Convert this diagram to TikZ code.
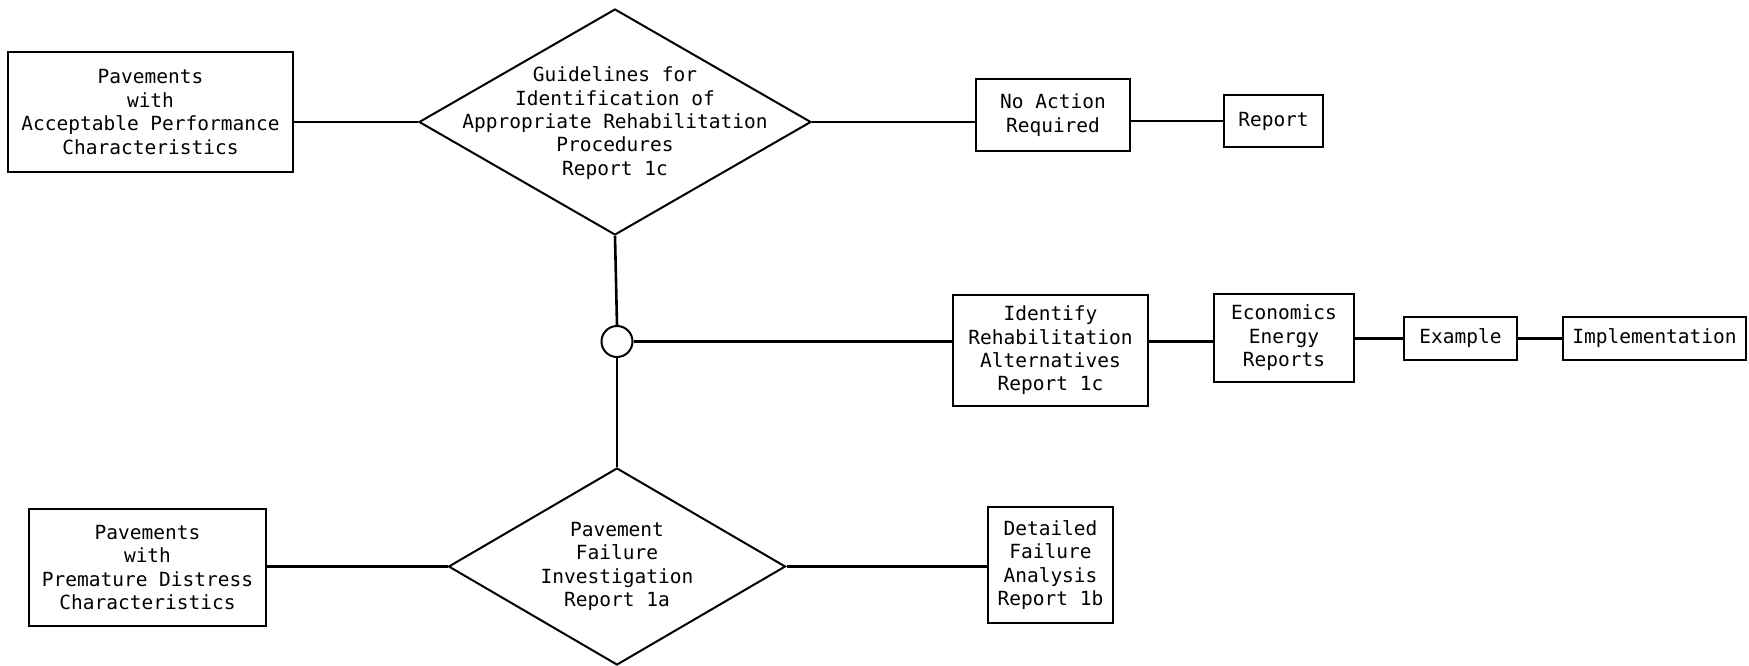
\documentclass[tikz,border=0pt]{standalone}
\usepackage{fontspec}
\setmonofont{DejaVu Sans Mono}
\usetikzlibrary{shapes.geometric}
\newcommand\labfont{\ttfamily\fontsize{19.5}{23.4}\selectfont}
\begin{document}
\begin{tikzpicture}[x=1pt,y=-1pt,
  box/.style={draw, line width=2pt, rectangle, inner sep=0pt, align=center, font=\labfont},
  dia/.style={draw, line width=2pt, diamond, inner sep=0pt},
  txt/.style={align=center, font=\labfont, inner sep=0pt},
  con/.style={line width=2.6pt}]
\useasboundingbox (0,0) rectangle (1749,666);

% top row
\node[box, minimum width=285pt, minimum height=120pt] (a1) at (150.5,112)
  {Pavements\\with\\Acceptable Performance\\Characteristics};
\node[dia, minimum width=392pt, minimum height=226pt] (d1) at (615,122) {};
\node[txt] (t1) at (615,123)
  {Guidelines for\\Identification of\\Appropriate Rehabilitation\\Procedures\\Report 1c};
\node[box, minimum width=154pt, minimum height=72pt] (n1) at (1053,115) {No Action\\Required};
\node[box, minimum width=99pt, minimum height=52pt] (r1) at (1273.5,121) {Report};

% middle row
\node[draw, circle, line width=2pt, minimum size=31pt, inner sep=0pt] (c1) at (617,341.5) {};
\node[box, minimum width=195pt, minimum height=111pt] (i1) at (1050.5,350.5)
  {Identify\\Rehabilitation\\Alternatives\\Report 1c};
\node[box, minimum width=140pt, minimum height=88pt] (e1) at (1284,338) {Economics\\Energy\\Reports};
\node[box, minimum width=113pt, minimum height=43pt] (x1) at (1460.5,338.5) {Example};
\node[box, minimum width=183pt, minimum height=43pt] (m1) at (1654.5,338.5) {Implementation};

% bottom row
\node[box, minimum width=237pt, minimum height=117pt] (p2) at (147.5,567.5)
  {Pavements\\with\\Premature Distress\\Characteristics};
\node[dia, minimum width=337pt, minimum height=197pt] (d2) at (617,566.5) {};
\node[txt] (t2) at (617,566.5) {Pavement\\Failure\\Investigation\\Report 1a};
\node[box, minimum width=125pt, minimum height=116pt] (f1) at (1050.5,565)
  {Detailed\\Failure\\Analysis\\Report 1b};

% connectors
\draw[con] (a1.east |- d1.west) -- (d1.west);
\draw[con] (d1.east) -- (d1.east -| n1.west);
\draw[con] (n1.east |- r1.west) -- (r1.west);
\draw[con] (d1.south) -- (c1.north);
\draw[con] (c1.south) -- (d2.north);
\draw[con] (c1.east) -- (c1.east -| i1.west);
\draw[con] (i1.east |- c1.east) -- (e1.west |- c1.east);
\draw[con] (e1.east |- x1.west) -- (x1.west);
\draw[con] (x1.east) -- (m1.west);
\draw[con] (p2.east |- d2.west) -- (d2.west);
\draw[con] (d2.east) -- (d2.east -| f1.west);
\end{tikzpicture}
\end{document}
